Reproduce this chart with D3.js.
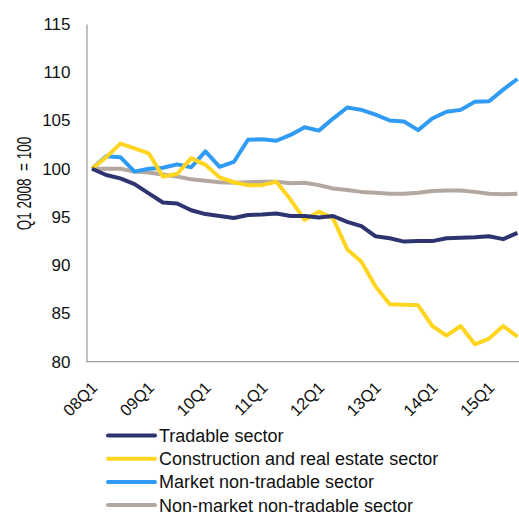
<!DOCTYPE html>
<html lang="en">
<head>
  <meta charset="UTF-8">
  <title>Sector indices, Q1 2008 = 100</title>
  <script src="https://d3js.org/d3.v7.min.js"></script>
  <style>
    html, body { margin: 0; background: #fff; }
    svg { display: block; font-family: "Liberation Sans", Arial, sans-serif; }
    .axis path { stroke: #a0a0a0; stroke-width: 1.3px; }
    .axis text { fill: #111; }
  </style>
</head>
<body>
  <svg id="chart" width="519" height="515"></svg>

  <script>
    // quarters 08Q1 .. 15Q3
    const quarters = [
      "08Q1", "08Q2", "08Q3", "08Q4", "09Q1", "09Q2", "09Q3", "09Q4",
      "10Q1", "10Q2", "10Q3", "10Q4", "11Q1", "11Q2", "11Q3", "11Q4",
      "12Q1", "12Q2", "12Q3", "12Q4", "13Q1", "13Q2", "13Q3", "13Q4",
      "14Q1", "14Q2", "14Q3", "14Q4", "15Q1", "15Q2", "15Q3"
    ];
    const yTicks = [80, 85, 90, 95, 100, 105, 110, 115];

    const tradable = [
      100, 99.35, 99.0, 98.4, 97.45, 96.5, 96.4, 95.7, 95.3, 95.1, 94.9,
      95.2, 95.25, 95.35, 95.1, 95.1, 94.95, 95.1, 94.5, 94.05, 93.0,
      92.8, 92.45, 92.5, 92.5, 92.8, 92.85, 92.9, 93.0, 92.7, 93.35
    ];
    const construction = [
      100, 101.2, 102.6, 102.1, 101.6, 99.2, 99.45, 101.1, 100.4, 99.1, 98.6,
      98.3, 98.3, 98.65, 96.8, 94.7, 95.55, 94.85, 91.65, 90.35, 87.8,
      85.95, 85.9, 85.85, 83.7, 82.7, 83.7, 81.8, 82.4, 83.7, 82.6
    ];
    const marketNonTradable = [
      100, 101.3, 101.2, 99.7, 100.0, 100.1, 100.45, 100.15, 101.8, 100.2, 100.7,
      103.0, 103.05, 102.9, 103.5, 104.3, 103.95, 105.2, 106.35, 106.1, 105.6,
      105.0, 104.9, 104.0, 105.2, 105.9, 106.1, 106.95, 107.0, 108.2, 109.3
    ];
    const nonMarket = [
      100, 100.0, 100.0, 99.7, 99.6, 99.4, 99.2, 98.9, 98.75, 98.6, 98.55,
      98.6, 98.65, 98.65, 98.5, 98.55, 98.3, 97.95, 97.8, 97.6, 97.5,
      97.4, 97.4, 97.5, 97.7, 97.75, 97.75, 97.6, 97.4, 97.35, 97.4
    ];

    const seriesNames = [
      "Tradable sector",
      "Construction and real estate sector",
      "Market non-tradable sector",
      "Non-market non-tradable sector"
    ];
    const seriesColors = ["#2d346f", "#ffd520", "#2f9bf4", "#b3a79f"];
    const seriesValues = [tradable, construction, marketNonTradable, nonMarket];

    const svg = d3.select("#chart");
    const plotLeft = 86.5, plotRight = 519, plotTop = 24, plotBottom = 361.7;

    const x = d3.scalePoint().domain(quarters).range([92, 517.4]);
    const y = d3.scaleLinear().domain([80, 115]).range([plotBottom, plotTop]);

    // axes
    svg.append("g")
      .attr("class", "axis")
      .attr("transform", `translate(${plotLeft},0)`)
      .call(d3.axisLeft(y).tickValues(yTicks).tickSize(0).tickPadding(16))
      .call(g => g.selectAll("text").style("font-size", "17px"));

    const xAxis = svg.append("g")
      .attr("class", "axis")
      .attr("transform", `translate(0,${plotBottom})`)
      .call(d3.axisBottom(x)
        .tickValues(quarters.filter(q => q.endsWith("Q1")))
        .tickSize(0).tickPadding(0));
    xAxis.select(".domain").attr("d", `M${plotLeft},0H${plotRight}`);
    xAxis.selectAll("text")
      .style("font-size", "16.5px")
      .attr("text-anchor", "end")
      .attr("dy", 0)
      .attr("y", 0)
      .attr("transform", "translate(6,27) rotate(-45)");

    // y title (glyphs look stretched in the original)
    svg.append("text")
      .attr("transform", "translate(31,183.5) rotate(-90) scale(1,1.45)")
      .attr("text-anchor", "middle")
      .style("font-size", "13.5px")
      .style("fill", "#111")
      .style("white-space", "pre")
      .text("Q1 2008  = 100");

    // lines
    const line = d3.line()
      .x((d, i) => x(quarters[i]))
      .y(d => y(d));

    // draw order: gray, blue, yellow, navy on top
    [3, 2, 1, 0].forEach(k => {
      svg.append("path")
        .datum(seriesValues[k])
        .attr("fill", "none")
        .attr("stroke", seriesColors[k])
        .attr("stroke-width", 4)
        .attr("stroke-linejoin", "round")
        .attr("d", line);
    });

    // legend
    const legend = svg.append("g").attr("transform", "translate(108,435.5)");
    seriesNames.forEach((name, i) => {
      const row = legend.append("g").attr("transform", `translate(0,${i * 23.2})`);
      row.append("line")
        .attr("x1", 0).attr("x2", 47)
        .attr("stroke", seriesColors[i])
        .attr("stroke-width", 4)
        .attr("stroke-linecap", "round");
      row.append("text")
        .attr("x", 51)
        .attr("dy", "0.36em")
        .style("font-size", "18px")
        .style("fill", "#111")
        .text(name);
    });
  </script>
</body>
</html>
